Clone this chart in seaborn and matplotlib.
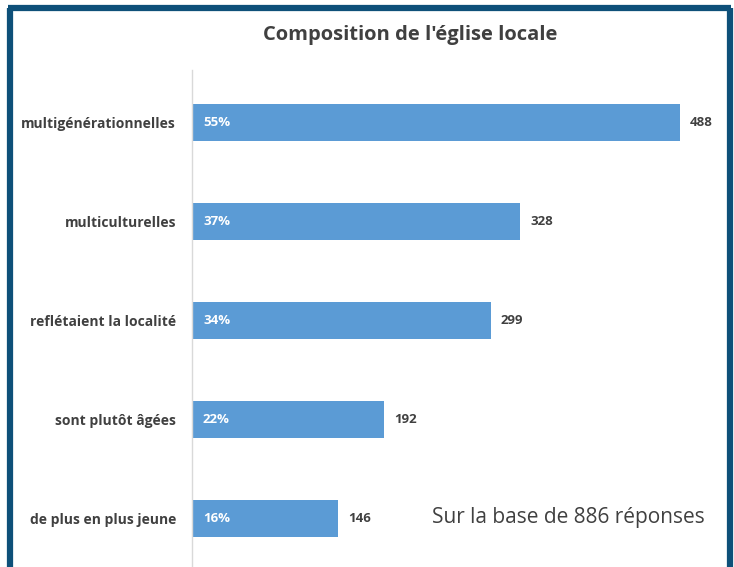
import matplotlib
matplotlib.use('Agg')
import matplotlib.pyplot as plt
import seaborn as sns
import pandas as pd
from matplotlib.lines import Line2D

categories = ['multigénérationnelles', 'multiculturelles', 'reflétaient la localité',
              'sont plutôt âgées', 'de plus en plus jeune']
counts = [488, 328, 299, 192, 146]
percents = ['55%', '37%', '34%', '22%', '16%']
total = 886

df = pd.DataFrame({'categorie': categories, 'reponses': counts})

sns.set_theme(style='white')
plt.rcParams['font.family'] = ['Open Sans', 'DejaVu Sans']

fig = plt.figure(figsize=(7.34, 5.67), dpi=100)
ax = fig.add_axes([192 / 734, 0, 540 / 734, 1 - 70 / 567])

sns.barplot(data=df, x='reponses', y='categorie', color='#5B9BD5', saturation=1,
            width=0.37, linewidth=0, ax=ax)

ax.set_xlim(0, 540)
ax.set_ylim(4.49, -0.53)
ax.set_xticks([])
ax.set_xlabel('')
ax.set_ylabel('')
for s in ['top', 'right', 'bottom']:
    ax.spines[s].set_visible(False)
ax.spines['left'].set_color('#D9D9D9')
ax.spines['left'].set_linewidth(1)
ax.tick_params(axis='y', length=0, pad=11.5)
for lbl in ax.get_yticklabels():
    lbl.set_fontweight('bold')
    lbl.set_fontsize(10)
    lbl.set_color('#404040')

for i, (c, p) in enumerate(zip(counts, percents)):
    ax.text(11, i, p, va='center', ha='left', color='white', fontsize=9.5, fontweight='bold')
    ax.text(c + 10, i, str(c), va='center', ha='left', color='#404040', fontsize=9.5,
            fontweight='bold')

fig.text(410 / 734, 1 - 35 / 567, "Composition de l'église locale", ha='center', va='center',
         fontsize=14.5, fontweight='bold', color='#404040')
fig.text(568 / 734, 1 - 517 / 567, f'Sur la base de {total} réponses', ha='center',
         va='center', fontsize=15, color='#404040')

# cadre bleu foncé
border = '#0E5079'
fig.add_artist(Line2D([10 / 734, 10 / 734], [0, 1 - 8 / 567], color=border, lw=4.5,
                      transform=fig.transFigure, solid_capstyle='butt'))
fig.add_artist(Line2D([8 / 734, 731 / 734], [1 - 8 / 567, 1 - 8 / 567], color=border, lw=4.5,
                      transform=fig.transFigure, solid_capstyle='butt'))
fig.add_artist(Line2D([730 / 734, 730 / 734], [0, 1 - 8 / 567], color=border, lw=4.5,
                      transform=fig.transFigure, solid_capstyle='butt'))

fig.savefig('out.png', dpi=100)
